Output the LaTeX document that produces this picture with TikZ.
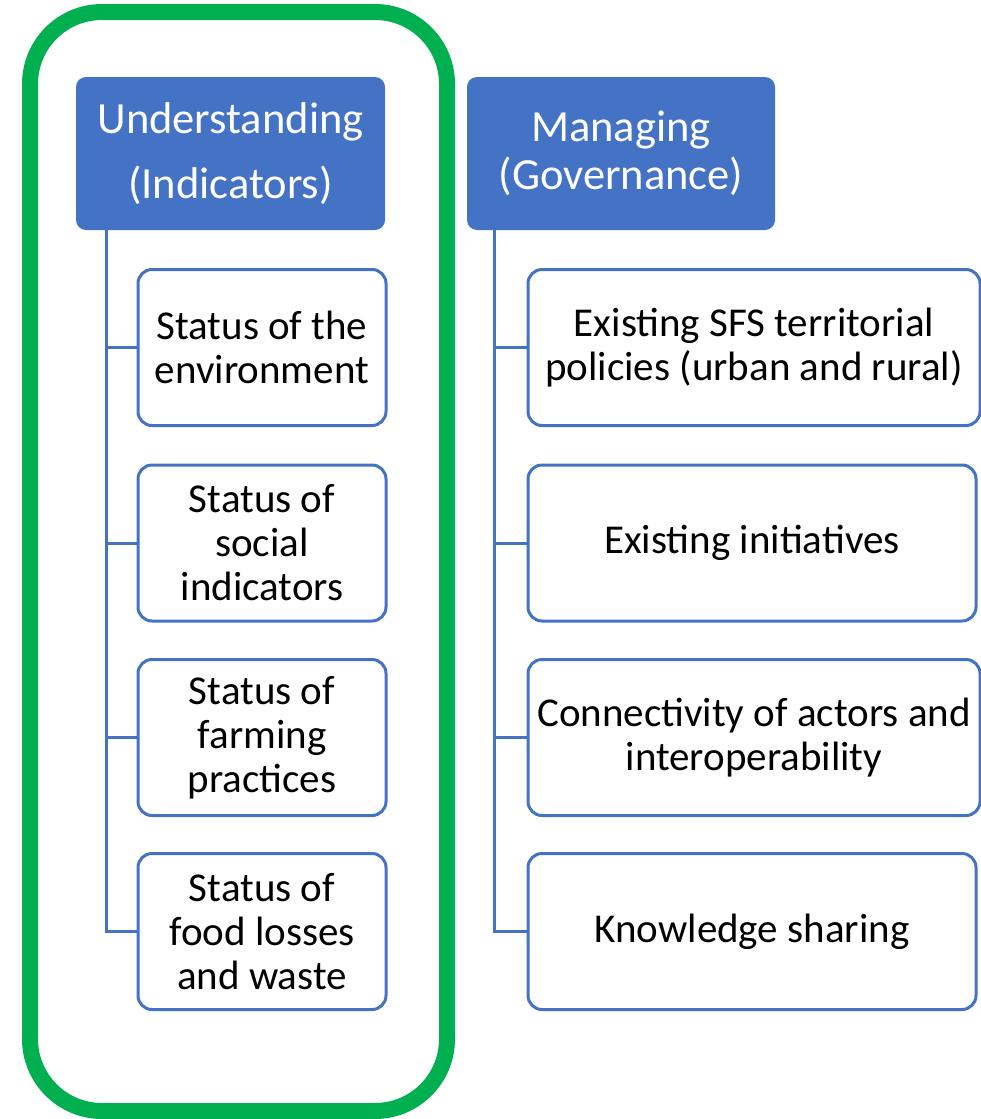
\documentclass[tikz,border=0pt]{standalone}
\usepackage{fontspec}
\setmainfont{Carlito}
\usetikzlibrary{calc}
\definecolor{hdrblue}{HTML}{4472C4}
\definecolor{frmgreen}{HTML}{00B050}
\tikzset{
  header/.style={draw=none, fill=hdrblue, rounded corners=10pt, text=white, align=center, inner sep=0pt},
  item/.style={draw=hdrblue, line width=3pt, fill=white, rounded corners=14pt, align=center, inner sep=0pt, minimum height=156pt, font={\fontsize{41}{44}\selectfont}},
  link/.style={draw=hdrblue, line width=3pt},
  frame/.style={draw=frmgreen, line width=16pt, rounded corners=72pt}
}
\begin{document}
\begin{tikzpicture}[x=1pt,y=-1pt]
\useasboundingbox (0,0) rectangle (981,1119);
\draw[frame] (30,12) rectangle (447,1111);
% headers
\node[header, minimum width=309pt, minimum height=153pt, font={\fontsize{44.5}{65}\selectfont}] (h1) at (230.5,153.5) {Understanding\\(Indicators)};
\node[header, minimum width=308pt, minimum height=153pt, font={\fontsize{44.5}{48}\selectfont}] (h2) at (621,153.5) {Managing\\(Governance)};
% left items
\node[item, minimum width=248pt] (l1) at (262,347.5) {Status of the\\environment};
\node[item, minimum width=248pt] (l2) at (262,543) {Status of\\social\\indicators};
\node[item, minimum width=248pt] (l3) at (262,737.5) {Status of\\farming\\practices};
\node[item, minimum width=248pt] (l4) at (262,931.5) {Status of\\food losses\\and waste};
% right items
\node[item, minimum width=452pt] (r1) at (754,347.5) {Existing SFS territorial\\policies (urban and rural)};
\node[item, minimum width=448pt] (r2) at (752,543) {Existing initiatives};
\node[item, minimum width=452pt] (r3) at (754,737.5) {Connectivity of actors and\\interoperability};
\node[item, minimum width=448pt] (r4) at (752,931.5) {Knowledge sharing};
% connectors
\coordinate (lv) at ([xshift=31pt]h1.south west);
\coordinate (rv) at ([xshift=28pt]h2.south west);
\draw[link] (lv) |- (l4.west);
\draw[link] (l1.west) -- (l1.west -| lv);
\draw[link] (l2.west) -- (l2.west -| lv);
\draw[link] (l3.west) -- (l3.west -| lv);
\draw[link] (rv) |- (r4.west);
\draw[link] (r1.west) -- (r1.west -| rv);
\draw[link] (r2.west) -- (r2.west -| rv);
\draw[link] (r3.west) -- (r3.west -| rv);
\end{tikzpicture}
\end{document}
